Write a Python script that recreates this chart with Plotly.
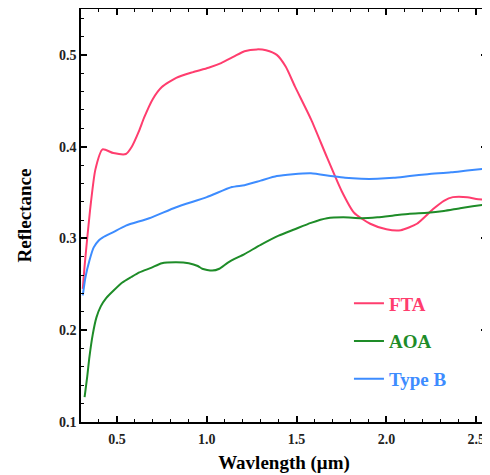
import plotly.graph_objects as go

# FTA
fta_x = [0.31, 0.32, 0.35, 0.38, 0.42, 0.48, 0.55, 0.58, 0.625, 0.65, 0.70, 0.75, 0.83, 0.92, 1.01, 1.08, 1.15, 1.21, 1.28, 1.33, 1.39, 1.44, 1.49, 1.58, 1.67, 1.75, 1.82, 1.91, 2.00, 2.08, 2.17, 2.26, 2.32, 2.37, 2.45, 2.50, 2.55]
fta_y = [0.245, 0.27, 0.33, 0.375, 0.397, 0.393, 0.392, 0.399, 0.418, 0.431, 0.452, 0.465, 0.475, 0.481, 0.486, 0.491, 0.498, 0.504, 0.506, 0.505, 0.500, 0.487, 0.466, 0.430, 0.388, 0.352, 0.328, 0.316, 0.310, 0.309, 0.316, 0.332, 0.341, 0.345, 0.345, 0.343, 0.342]

# AOA
aoa_x = [0.32, 0.335, 0.347, 0.365, 0.386, 0.41, 0.44, 0.48, 0.53, 0.58, 0.625, 0.69, 0.75, 0.83, 0.90, 0.95, 0.975, 1.03, 1.07, 1.12, 1.21, 1.30, 1.40, 1.49, 1.58, 1.67, 1.76, 1.86, 1.95, 2.04, 2.13, 2.23, 2.32, 2.41, 2.48, 2.55]
aoa_y = [0.127, 0.15, 0.171, 0.195, 0.214, 0.226, 0.235, 0.243, 0.252, 0.258, 0.263, 0.268, 0.273, 0.274, 0.273, 0.270, 0.267, 0.265, 0.267, 0.274, 0.283, 0.293, 0.303, 0.310, 0.317, 0.322, 0.323, 0.322, 0.323, 0.325, 0.327, 0.328, 0.330, 0.333, 0.335, 0.337]

# Type B
tb_x = [0.31, 0.325, 0.347, 0.37, 0.40, 0.42, 0.48, 0.55, 0.68, 0.83, 1.00, 1.14, 1.21, 1.30, 1.39, 1.48, 1.58, 1.69, 1.77, 1.86, 1.95, 2.04, 2.13, 2.23, 2.36, 2.45, 2.55]
tb_y = [0.238, 0.258, 0.276, 0.290, 0.298, 0.301, 0.307, 0.314, 0.322, 0.334, 0.345, 0.356, 0.358, 0.363, 0.368, 0.370, 0.371, 0.368, 0.366, 0.365, 0.365, 0.366, 0.368, 0.370, 0.372, 0.374, 0.376]

RED = "#FF3D6E"
GREEN = "#1E8C28"
BLUE = "#3D8CFF"

fig = go.Figure()
series = [("FTA", fta_x, fta_y, RED), ("AOA", aoa_x, aoa_y, GREEN), ("Type B", tb_x, tb_y, BLUE)]
for name, xs, ys, col in series:
    fig.add_trace(go.Scatter(
        x=xs, y=ys, mode="lines", line=dict(color=col, width=2, shape="spline", smoothing=0.6),
        name=f'<span style="color:{col}"><b>{name}</b></span>', legendgroup=name,
    ))

axis_common = dict(
    showline=True, linecolor="black", linewidth=1.5, mirror="allticks",
    ticks="inside", ticklen=6, tickwidth=1.5, tickcolor="black",
    showgrid=False, zeroline=False, automargin=False,
    tickfont=dict(family="Liberation Serif", size=14, color="#222", weight="bold"),
)

fig.update_xaxes(
    range=[0.3, 2.56], tick0=0.5, dtick=0.5, tickformat=".1f", ticklabelstandoff=3,
    minor=dict(ticks="inside", ticklen=3, tickwidth=1.2, tickcolor="black", dtick=0.1, tick0=0.5),
    title=dict(text="<b>Wavlength (μm)</b>", font=dict(family="Liberation Serif", size=19, color="black"), standoff=10),
    **axis_common,
)
fig.update_yaxes(
    range=[0.1, 0.55], tick0=0.1, dtick=0.1, tickformat=".1f",
    minor=dict(ticks="inside", ticklen=3, tickwidth=1.2, tickcolor="black", dtick=0.02, tick0=0.1),
    title=dict(text="<b>Reflectance</b>", font=dict(family="Liberation Serif", size=19, color="black"), standoff=22),
    **axis_common,
)

fig.update_layout(
    width=482, height=467,
    margin=dict(l=73, r=3, t=1, b=53),
    plot_bgcolor="white", paper_bgcolor="white",
    font=dict(family="Liberation Serif", size=14),
    legend=dict(x=0.66, y=0.333, xanchor="left", yanchor="top", bgcolor="rgba(0,0,0,0)",
                tracegroupgap=10, font=dict(family="Liberation Serif", size=19)),
)

fig.write_html("out.html")
